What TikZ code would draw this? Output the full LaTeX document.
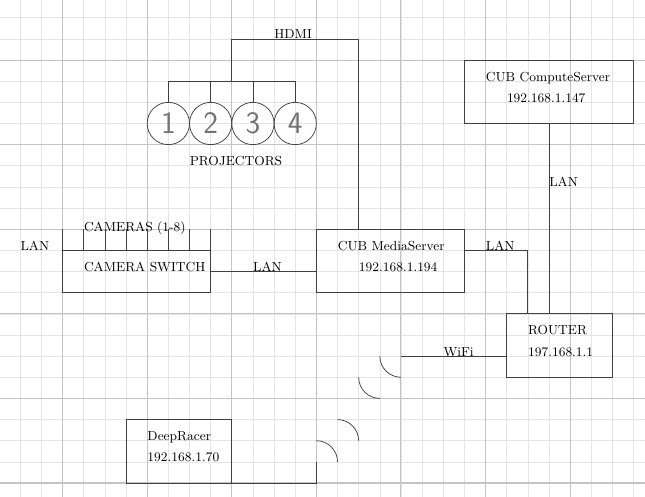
\documentclass[tikz,border=0pt]{standalone}
\usepackage{tikz}
\usetikzlibrary{calc}

\definecolor{gridminor}{gray}{0.9}
\definecolor{gridmajor}{gray}{0.77}
\definecolor{ink}{gray}{0.25}

\begin{document}
\begin{tikzpicture}[x=0.5cm,y=0.5cm,
    font=\fontsize{8.8}{10.5}\selectfont,
    wire/.style={draw=ink,line width=0.5pt},
    device/.style={draw=ink,line width=0.5pt,rectangle,inner sep=0pt,outer sep=0pt},
    txt/.style={anchor=base west,inner sep=0pt},
    proj/.style={draw=ink,line width=0.5pt,circle,minimum size=1cm,inner sep=0pt,
      outer sep=0pt,font=\fontsize{21}{21}\sffamily,text=black!55}]
  \useasboundingbox (-2.96,-0.66) rectangle (27.54,22.84);
  % background grid
  \begin{scope}
    \clip (-2.96,-0.66) rectangle (27.54,22.84);
    \draw[gridminor,line width=0.4pt,step=0.5cm] (-4,-2) grid (29,24);
    \draw[gridmajor,line width=0.7pt,step=2cm] (-4,-2) grid (29,24);
  \end{scope}

  % devices
  \node[device,minimum width=3.5cm,minimum height=1cm] (camsw) at (3.5,10) {};
  \node[device,minimum width=3.5cm,minimum height=1.5cm] (media) at (15.5,10.5) {};
  \node[device,minimum width=4cm,minimum height=1.5cm] (compute) at (23,18.5) {};
  \node[device,minimum width=2.5cm,minimum height=1.5cm] (router) at (23.5,6.5) {};
  \node[device,minimum width=2.5cm,minimum height=1.5cm] (racer) at (5.5,1.5) {};
  \foreach \i/\x in {1/5,2/7,3/9,4/11}
    \node[proj] (p\i) at (\x,17) {\i};

  \node[txt] (camswname) at (1,10) {CAMERA SWITCH};
  \node[txt] (camlabel) at (1,11.88) {CAMERAS (1-8)};
  \node[txt] (medianame) at (13,11) {CUB MediaServer};
  \node[txt] (mediaip) at (14,10) {192.168.1.194};
  \node[txt] (computename) at (20,19) {CUB ComputeServer};
  \node[txt] (computeip) at (21,18) {192.168.1.147};
  \node[txt] (routername) at (22,7) {ROUTER};
  \node[txt] (routerip) at (22,6) {197.168.1.1};
  \node[txt] (racername) at (4,2) {DeepRacer};
  \node[txt] (racerip) at (4,1) {192.168.1.70};
  \node[txt] (projlabel) at (6,15) {PROJECTORS};

  % links
  \draw[wire] (p1.north) -- ++(0,1) -| (p4.north);
  \draw[wire] (p2.north) -- ++(0,1);
  \draw[wire] (p3.north) -- ++(0,1);
  \coordinate (hub) at ($(p2.north)!0.5!(p3.north)+(0,1)$);
  \draw[wire] (hub) -- ++(0,2) -| ($(media.north west)+(2,0)$);
  \node[txt] (hdmi) at (10,21) {HDMI};

  \foreach \i in {0,...,7}
    \draw[wire] ($(camsw.north west)+(\i,0)$) -- ++(0,1);
  \node[txt] (camlan) at (-2,11) {LAN};

  \draw[wire] (camsw.east) -- (camsw.east -| media.west);
  \node[txt] (swlan) at (9,10) {LAN};
  \draw[wire] ($(media.north east)+(0,-1)$) -| ($(router.north west)+(1,0)$);
  \node[txt] (medialan) at (20,11) {LAN};
  \draw[wire] (compute.south) -- (compute.south |- router.north);
  \node[txt] (computelan) at (23,14) {LAN};

  % wifi
  \coordinate (wifitx) at ($(router.south west)+(-5,1)$);
  \draw[wire] ($(router.south west)+(0,1)$) -- (wifitx);
  \node[txt] (wifilabel) at (18,6) {WiFi};
  \draw[wire] ($(wifitx)+(-1,0)$) arc[start angle=180,end angle=270,radius=1];
  \draw[wire] ($(wifitx)+(-2,-1)$) arc[start angle=180,end angle=270,radius=1];
  \coordinate (wifirx) at ($(racer.south east)+(4,1)$);
  \draw[wire] (racer.south east) -| (wifirx);
  \draw[wire] ($(wifirx)+(1,2)$) arc[start angle=90,end angle=0,radius=1];
  \draw[wire] ($(wifirx)+(0,1)$) arc[start angle=90,end angle=0,radius=1];
\end{tikzpicture}
\end{document}
